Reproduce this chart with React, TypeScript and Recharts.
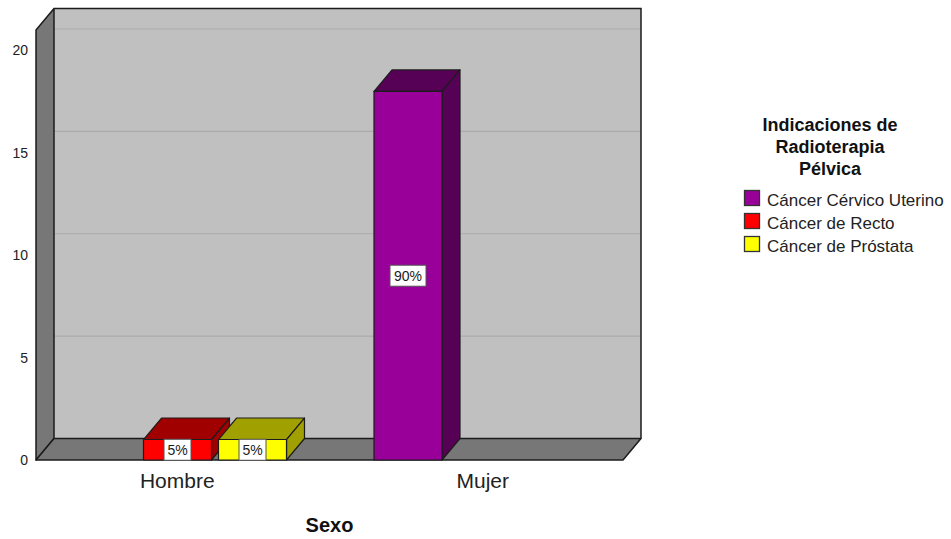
import { BarChart, Bar, XAxis, YAxis, ReferenceArea, LabelList } from 'recharts';

const FONT = '"Liberation Sans", Arial, Helvetica, sans-serif';

// depth of the 3D extrusion (px to the right / up)
const DX = 18;
const DY = 21.5;
const Y_MAX = 21;
// band padding pulls the categories slightly outside the front plane
const PAD_L = 11.5;
const PAD_R = 12.5;

const categories = ['Hombre', 'Mujer'];
const cervicoUterino = [null, 18];
const recto = [1, null];
const prostata = [1, null];
const yTicks = [0, 5, 10, 15, 20];

const series = [
  { key: 'cervico', name: 'Cáncer Cérvico Uterino', values: cervicoUterino, front: '#990099', shade: '#560056' },
  { key: 'recto', name: 'Cáncer de Recto', values: recto, front: '#FF0000', shade: '#A00000' },
  { key: 'prostata', name: 'Cáncer de Próstata', values: prostata, front: '#FFFF00', shade: '#A0A000' },
];

const data = categories.map((sexo, i) => {
  const row: Record<string, string | number | null> = { sexo };
  series.forEach((s) => {
    row[s.key] = s.values[i];
  });
  return row;
});

const total = series.reduce(
  (acc, s) => acc + s.values.reduce((a: number, v) => a + (v ?? 0), 0),
  0,
);

const EDGE = '#1c1c1c';

function Walls(props: any) {
  const { x, y, width, height } = props;
  const left = x + PAD_L;
  const right = x + width - PAD_R;
  const top = y;
  const bottom = y + height;
  const toY = (v: number) => bottom - (v / Y_MAX) * height;

  return (
    <g>
      {/* back wall */}
      <rect x={left + DX} y={top - DY} width={right - left} height={bottom - top} fill="#C0C0C0" />
      {yTicks
        .filter((t) => t > 0)
        .map((t) => (
          <line
            key={t}
            x1={left + DX}
            x2={right + DX}
            y1={toY(t) - DY}
            y2={toY(t) - DY}
            stroke="#ABABAB"
            strokeWidth={1.2}
          />
        ))}
      <polyline
        points={`${left + DX},${top - DY} ${right + DX},${top - DY} ${right + DX},${bottom - DY}`}
        fill="none"
        stroke={EDGE}
        strokeWidth={1.5}
      />
      {/* left wall */}
      <polygon
        points={`${left},${top} ${left + DX},${top - DY} ${left + DX},${bottom - DY} ${left},${bottom}`}
        fill="#777777"
        stroke={EDGE}
        strokeWidth={1.5}
        strokeLinejoin="round"
      />
      {/* floor */}
      <polygon
        points={`${left},${bottom} ${left + DX},${bottom - DY} ${right + DX},${bottom - DY} ${right},${bottom}`}
        fill="#777777"
        stroke={EDGE}
        strokeWidth={1.5}
        strokeLinejoin="round"
      />
    </g>
  );
}

function Box3D(props: any) {
  const { x, y, width, height, value, front, shade } = props;
  if (value == null || !height || height <= 0) return null;
  const r = x + width;
  const b = y + height;
  return (
    <g stroke={EDGE} strokeWidth={1.2} strokeLinejoin="round">
      <polygon points={`${x},${y} ${x + DX},${y - DY} ${r + DX},${y - DY} ${r},${y}`} fill={shade} />
      <polygon points={`${r},${y} ${r + DX},${y - DY} ${r + DX},${b - DY} ${r},${b}`} fill={shade} />
      <rect x={x} y={y} width={width} height={height} fill={front} />
    </g>
  );
}

function PercentTag(props: any) {
  const { x, y, width, height, value } = props;
  if (value == null || !value) return null;
  const text = `${Math.round((value / total) * 100)}%`;
  const w = text.length * 9 + 9;
  const h = 21;
  const cx = x + width / 2;
  const cy = y + height / 2;
  return (
    <g>
      <rect x={cx - w / 2} y={cy - h / 2} width={w} height={h} fill="#FFFFFF" stroke="#555555" strokeWidth={1} />
      <text x={cx} y={cy + 5} textAnchor="middle" fontSize={14} fontFamily={FONT} fill="#1a1a1a">
        {text}
      </text>
    </g>
  );
}

function CategoryTick(props: any) {
  const { x, y, payload } = props;
  return (
    <text x={x} y={y + 20} textAnchor="middle" fontSize={21} fontFamily={FONT} fill="#222">
      {payload.value}
    </text>
  );
}

function Legend3D() {
  return (
    <svg width={220} height={160} style={{ position: 'absolute', left: 731, top: 100 }}>
      <g fontFamily={FONT} fill="#111">
        {['Indicaciones de', 'Radioterapia', 'Pélvica'].map((line, i) => (
          <text key={line} x={99} y={31 + i * 22} textAnchor="middle" fontSize={18} fontWeight="bold">
            {line}
          </text>
        ))}
        {series.map((s, i) => (
          <g key={s.key}>
            <rect x={13.5} y={90.5 + i * 23} width={15} height={15} fill={s.front} stroke="#333" strokeWidth={1.3} />
            <text x={36} y={106 + i * 23} fontSize={17} fill="#222">
              {s.name}
            </text>
          </g>
        ))}
      </g>
    </svg>
  );
}

export default function App() {
  return (
    <div style={{ position: 'absolute', left: 0, top: 0, width: 951, height: 539, background: '#fff' }}>
      <BarChart
        width={951}
        height={539}
        data={data}
        margin={{ top: 30, right: 328, bottom: 39, left: 0 }}
        barSize={68}
        barGap={7}
      >
        <ReferenceArea y1={0} y2={Y_MAX} shape={(p: any) => <Walls {...p} />} ifOverflow="visible" />
        <XAxis
          dataKey="sexo"
          axisLine={false}
          tickLine={false}
          height={40}
          padding={{ left: -PAD_L, right: -PAD_R }}
          tick={<CategoryTick />}
          label={{
            content: (p: any) => {
              const vb = p.viewBox;
              return (
                <text
                  x={vb.x + vb.width / 2}
                  y={532}
                  textAnchor="middle"
                  fontSize={20}
                  fontWeight="bold"
                  fontFamily={FONT}
                  fill="#111"
                >
                  Sexo
                </text>
              );
            },
          }}
        />
        <YAxis
          width={36}
          domain={[0, Y_MAX]}
          ticks={yTicks}
          axisLine={false}
          tickLine={false}
          tick={{ fontSize: 14, fill: '#222', fontFamily: FONT }}
        />
        {series.map((s) => (
          <Bar
            key={s.key}
            dataKey={s.key}
            name={s.name}
            fill={s.front}
            isAnimationActive={false}
            shape={(p: any) => <Box3D {...p} front={s.front} shade={s.shade} />}
          >
            <LabelList dataKey={s.key} content={(p: any) => <PercentTag {...p} />} />
          </Bar>
        ))}
      </BarChart>
      <Legend3D />
    </div>
  );
}
